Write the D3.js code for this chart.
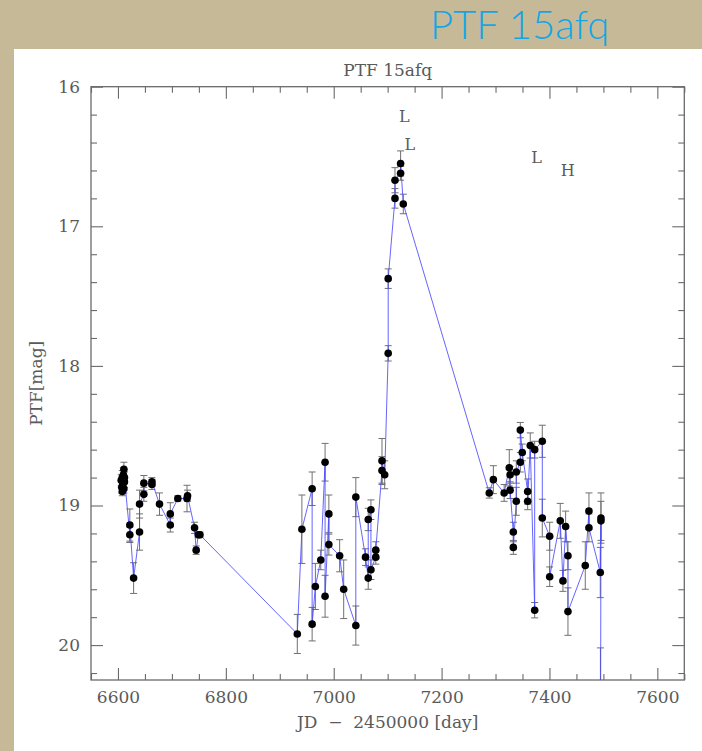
<!DOCTYPE html>
<html><head><meta charset="utf-8">
<script src="https://cdn.jsdelivr.net/npm/d3@7"></script>
<style>
body{margin:0;background:#c6b998;}
svg{display:block}
</style>
</head><body>
<svg id="chart" width="702" height="751"></svg>
<script>
// ---- data (JD-2450000, PTF mag, error) ----
const jd = [
  6606,6607,6608,6608,6609,6610,6611,6611,6612,6612,
  6622,6622,6629,6640,6640,6648,6648,6663,6663,6677,
  6697,6697,6711,6728,6729,6742,6745,6749,6752,
  6932.5,6941,6960,6960,6966,6976,6984,6984,6991,6991,
  7011,7018.5,7041,7041,7059,7064,7064,7069,7069,7078,7078,
  7089.5,7089.5,7094.5,
  7101,7101,7113.6,7113.6,7124,7124,7129,
  7288.4,7296,7316,7325.5,7327,7327,7333,7333,7338.5,7338.5,
  7346,7346,7349.6,7359.6,7359.6,7364.4,7372.6,7372.6,7386.7,7386.7,
  7400.4,7400.4,7420,7425,7430,7434.3,7434.3,7466.4,7473.2,7473.2,
  7494.2,7495.5,7495.5,7494.5
];
const mag = [
  18.82,18.87,18.80,18.90,18.85,18.78,18.74,18.88,18.83,18.80,
  19.21,19.14,19.52,19.19,18.99,18.92,18.84,18.85,18.83,18.99,
  19.14,19.06,18.95,18.95,18.93,19.16,19.32,19.21,19.21,
  19.92,19.17,18.88,19.85,19.58,19.39,18.69,19.65,19.06,19.28,
  19.36,19.60,19.86,18.94,19.37,19.52,19.10,19.03,19.46,19.37,19.32,
  18.75,18.68,18.78,
  17.91,17.375,16.80,16.67,16.62,16.55,16.84,
  18.91,18.815,18.91,18.73,18.78,18.89,19.19,19.30,18.97,18.76,
  18.69,18.46,18.62,18.90,18.97,18.57,19.75,18.60,18.54,19.09,
  19.22,19.51,19.11,19.54,19.15,19.36,19.76,19.43,19.04,19.16,
  19.48,19.09,19.11,21.00
];
const magErr = [
  0.04,0.04,0.05,0.03,0.04,0.05,0.05,0.03,0.04,0.04,
  0.055,0.115,0.11,0.13,0.10,0.05,0.055,0.035,0.03,0.08,
  0.05,0.08,0.02,0.095,0.04,0.04,0.03,0.02,0.02,
  0.14,0.245,0.12,0.12,0.165,0.07,0.135,0.15,0.135,0.075,
  0.115,0.21,0.14,0.14,0.06,0.08,0.08,0.07,0.07,0.05,0.06,
  0.10,0.16,0.10,
  0.055,0.07,0.07,0.09,0.05,0.09,0.07,
  0.037,0.10,0.06,0.13,0.06,0.06,0.07,0.05,0.10,0.08,
  0.07,0.055,0.06,0.09,0.06,0.09,0.055,0.06,0.115,0.135,
  0.10,0.07,0.125,0.075,0.11,0.10,0.17,0.17,0.13,0.10,
  0.18,0.18,0.14,0.98
];
const noteText = ["L","L","L","H"];
const noteJd = [7131,7141,7376,7434];
const noteMag = [16.21,16.41,16.51,16.60];
const xMajor = [6600,6800,7000,7200,7400,7600];
const yMajor = [16,17,18,19,20];
const chartTitle = "PTF 15afq";
const xLabel = "JD  \u2212  2450000 [day]";
const yLabel = "PTF[mag]";

// ---- layout ----
const svg = d3.select("#chart");
const L = 91, R = 684.3, T = 86.7, B = 680;
const x = d3.scaleLinear().domain([6550, 7650]).range([L, R]);
const y = d3.scaleLinear().domain([16, 20.25]).range([T, B]);
const axisCol = "#6a6a6a", textCol = "#5a5a5a";
const serif = "'DejaVu Serif', 'Liberation Serif', serif";

// background panel
svg.append("rect").attr("x",0).attr("y",0).attr("width",702).attr("height",751).attr("fill","#c6b998");
svg.append("rect").attr("x",14).attr("y",49).attr("width",688).attr("height",702).attr("fill","#fff");

// slide heading
svg.append("text").attr("x",430).attr("y",39).text(chartTitle)
  .attr("font-family","Lato, 'Open Sans', sans-serif").attr("font-weight",300)
  .attr("font-size",40).attr("fill","#14a6e4");

// clip
svg.append("clipPath").attr("id","clip").append("rect")
  .attr("x",L).attr("y",T).attr("width",R-L).attr("height",B-T);

// axes
const xMinor = d3.range(6550, 7651, 50).filter(v => !xMajor.includes(v));
const yMinor = d3.range(16, 20.26, 0.2).map(v => +v.toFixed(2)).filter(v => !yMajor.includes(v));

function styleAxis(g){
  g.select(".domain").remove();
  g.selectAll("line").attr("stroke",axisCol).attr("stroke-width",1.1);
  g.selectAll("text").attr("font-family",serif).attr("font-size",17).attr("fill",textCol);
}
// bottom
svg.append("g").attr("transform",`translate(0,${B})`)
  .call(d3.axisBottom(x).tickValues(xMajor).tickFormat(d3.format("d")).tickSizeInner(-12).tickSizeOuter(0).tickPadding(11))
  .call(styleAxis);
svg.append("g").attr("transform",`translate(0,${B})`)
  .call(d3.axisBottom(x).tickValues(xMinor).tickFormat("").tickSizeInner(-6).tickSizeOuter(0))
  .call(styleAxis);
// top
svg.append("g").attr("transform",`translate(0,${T})`)
  .call(d3.axisTop(x).tickValues(xMajor).tickFormat("").tickSizeInner(-12).tickSizeOuter(0))
  .call(styleAxis);
svg.append("g").attr("transform",`translate(0,${T})`)
  .call(d3.axisTop(x).tickValues(xMinor).tickFormat("").tickSizeInner(-6).tickSizeOuter(0))
  .call(styleAxis);
// left
svg.append("g").attr("transform",`translate(${L},0)`)
  .call(d3.axisLeft(y).tickValues(yMajor).tickFormat(d3.format("d")).tickSizeInner(-12).tickSizeOuter(0).tickPadding(11))
  .call(styleAxis);
svg.append("g").attr("transform",`translate(${L},0)`)
  .call(d3.axisLeft(y).tickValues(yMinor).tickFormat("").tickSizeInner(-6).tickSizeOuter(0))
  .call(styleAxis);
// right
svg.append("g").attr("transform",`translate(${R},0)`)
  .call(d3.axisRight(y).tickValues(yMajor).tickFormat("").tickSizeInner(-12).tickSizeOuter(0))
  .call(styleAxis);
svg.append("g").attr("transform",`translate(${R},0)`)
  .call(d3.axisRight(y).tickValues(yMinor).tickFormat("").tickSizeInner(-6).tickSizeOuter(0))
  .call(styleAxis);

// frame
svg.append("rect").attr("x",L).attr("y",T).attr("width",R-L).attr("height",B-T)
  .attr("fill","none").attr("stroke",axisCol).attr("stroke-width",1.3);

// titles
svg.append("text").attr("x",(L+R)/2).attr("y",76).attr("text-anchor","middle")
  .attr("font-family",serif).attr("font-size",17).attr("fill",textCol).text(chartTitle);
svg.append("text").attr("x",(L+R)/2).attr("y",728).attr("text-anchor","middle")
  .attr("font-family",serif).attr("font-size",17).attr("fill",textCol)
  .style("white-space","pre").text(xLabel);
svg.append("text").attr("transform",`translate(42,${(T+B)/2}) rotate(-90)`).attr("text-anchor","middle")
  .attr("font-family",serif).attr("font-size",17).attr("fill",textCol).text(yLabel);

// data
const pts = jd.map((d,i) => ({jd:d, mag:mag[i], err:magErr[i]}));
const plot = svg.append("g").attr("clip-path","url(#clip)");

const eb = plot.append("g").attr("stroke","#707070").attr("stroke-width",1).attr("fill","none");
pts.forEach(p => {
  const cx = x(p.jd), y1 = y(p.mag - p.err), y2 = y(p.mag + p.err);
  eb.append("line").attr("x1",cx).attr("x2",cx).attr("y1",y1).attr("y2",y2);
  eb.append("line").attr("x1",cx-3.5).attr("x2",cx+3.5).attr("y1",y1).attr("y2",y1);
  eb.append("line").attr("x1",cx-3.5).attr("x2",cx+3.5).attr("y1",y2).attr("y2",y2);
});

plot.append("path").datum(pts)
  .attr("d", d3.line().x(d => x(d.jd)).y(d => y(d.mag)))
  .attr("fill","none").attr("stroke","#4a4aff").attr("stroke-opacity",0.85).attr("stroke-width",1);

plot.append("g").selectAll("circle").data(pts).join("circle")
  .attr("cx", d => x(d.jd)).attr("cy", d => y(d.mag)).attr("r",3.8).attr("fill","#000");

// annotations
svg.append("g").selectAll("text").data(noteText).join("text")
  .attr("x",(d,i) => x(noteJd[i])).attr("y",(d,i) => y(noteMag[i]))
  .attr("dy","0.35em").attr("text-anchor","middle")
  .attr("font-family",serif).attr("font-size",16).attr("fill",textCol)
  .text(d => d);
</script>
</body></html>
